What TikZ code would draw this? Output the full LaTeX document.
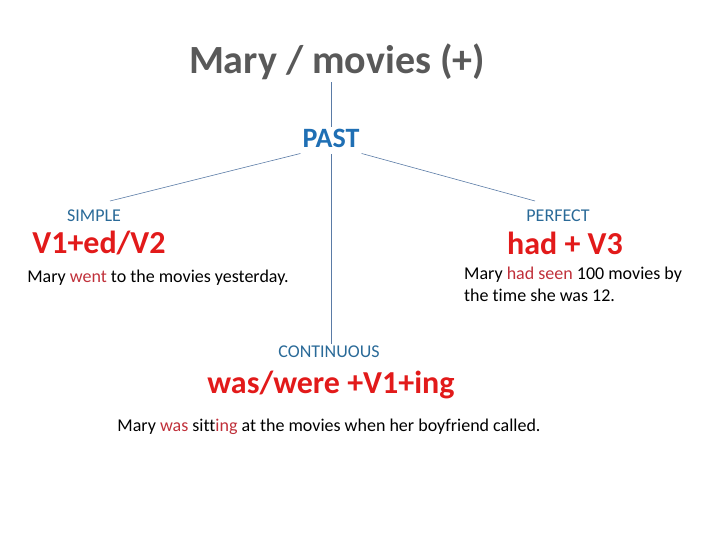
\documentclass[tikz,border=0pt]{standalone}
\usepackage{fontspec}
\setmainfont{Carlito}[Ligatures=NoCommon]
\usetikzlibrary{positioning}

\definecolor{titlegray}{HTML}{595959}
\definecolor{tenseblue}{HTML}{1F6FB4}
\definecolor{aspectblue}{HTML}{2A6A98}
\definecolor{formred}{HTML}{E21A1A}
\definecolor{verbred}{HTML}{C0303A}
\definecolor{linkblue}{HTML}{5A7BA6}

\begin{document}
\begin{tikzpicture}[x=1pt,y=-1pt,inner sep=2pt,
    title/.style={text=titlegray,font=\fontsize{40}{44}\selectfont\bfseries},
    tense/.style={text=tenseblue,font=\fontsize{28}{32}\selectfont\bfseries},
    aspect/.style={text=aspectblue,font=\fontsize{18}{21}\selectfont},
    form/.style={text=formred,font=\fontsize{32}{36}\selectfont\bfseries},
    example/.style={font=\fontsize{18}{22}\selectfont,align=left},
    link/.style={draw=linkblue,line width=0.6pt}]
    \useasboundingbox (0,0) rectangle (720,540);

    \node[title] (mary) at (337,62) {Mary / movies (+)};
    \node[tense] (past) at (331,138) {PAST};

    \node[aspect] (simple) at (94,216) {SIMPLE};
    \node[form] (simpleform) at (99,243) {V1+ed/V2};
    \node[example] (simplex) at (158,278) {Mary \textcolor{verbred}{went} to the movies yesterday.};

    \node[aspect] (perfect) at (558,216) {PERFECT};
    \node[form] (perfectform) at (565,243) {had + V3};
    \node[example,anchor=west] (perfectx) at (462,284) {Mary \textcolor{verbred}{had seen} 100 movies by\\the time she was 12.};

    \node[aspect] (cont) at (329,352) {CONTINUOUS};
    \node[form] (contform) at (331,385) {was/were +V1+ing};
    \node[example] (contx) at (329,427) {Mary \textcolor{verbred}{was} sitt\textcolor{verbred}{ing} at the movies when her boyfriend called.};

    \coordinate (simpletop) at (110,201);
    \coordinate (perfecttop) at (535,201);

    \draw[link] (past.north |- mary.south) -- (past.north);
    \draw[link] ([yshift=-4pt]past.south west) -- (simpletop);
    \draw[link] ([yshift=-4pt]past.south east) -- (perfecttop);
    \draw[link] ([yshift=-5pt]past.south) -- (past.south |- cont.north);
\end{tikzpicture}
\end{document}
